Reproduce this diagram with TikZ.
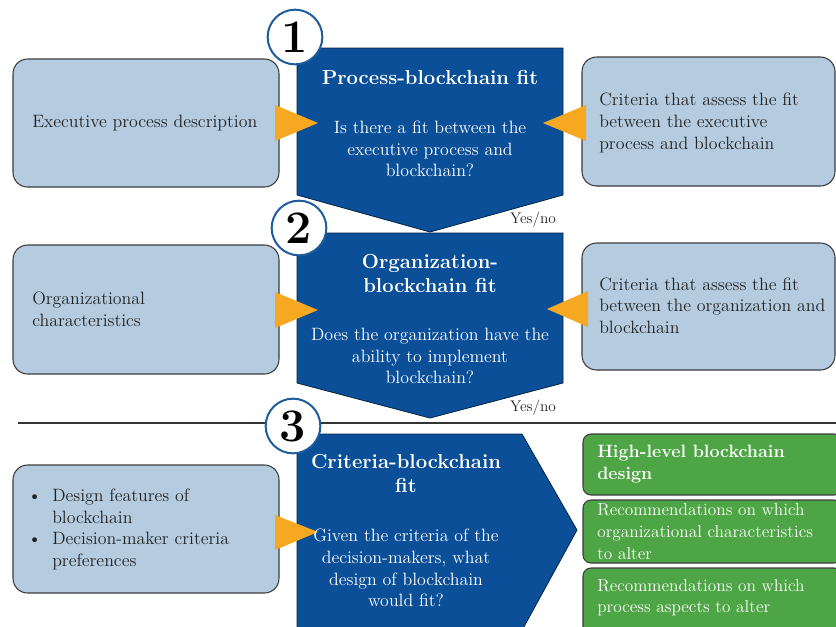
\documentclass[tikz,border=0pt]{standalone}
\usetikzlibrary{fit}
\definecolor{chev}{HTML}{0B4F98}
\definecolor{lblue}{HTML}{B4CBE0}
\definecolor{orng}{HTML}{F6A820}
\definecolor{grn}{HTML}{4EA545}
\definecolor{circ}{HTML}{1F5C9C}
\definecolor{bord}{HTML}{3C3C3C}
\definecolor{ink}{HTML}{222222}
\begin{document}
\begin{tikzpicture}[x=0.75pt,y=-0.75pt,
  inbox/.style={draw=bord, line width=0.8pt, fill=lblue, rounded corners=11pt, inner sep=0pt},
  outbox/.style={draw=bord, line width=0.8pt, fill=grn, rounded corners=6pt, inner sep=0pt},
  chevron/.style={fill=chev, draw=chev!45!black, line width=0.6pt},
  tri/.style={fill=orng},
  num/.style={circle, draw=circ, line width=1.5pt, fill=white, minimum size=41pt, inner sep=0pt, font=\fontsize{35}{35}\selectfont\bfseries},
  ttl/.style={text=white, font=\fontsize{15.2}{18}\selectfont\bfseries, align=center, inner sep=0pt},
  body/.style={text=white, font=\fontsize{13.4}{16.2}\selectfont, align=center, inner sep=0pt},
  txt/.style={text=ink, font=\fontsize{13.4}{16.2}\selectfont, align=left, inner sep=0pt, anchor=west},
  gtxt/.style={text=white, font=\fontsize{13}{16.2}\selectfont, align=left, inner sep=0pt, anchor=west},
  yn/.style={text=ink, font=\fontsize{11.5}{13}\selectfont, inner sep=0pt}
]
\useasboundingbox (0,0) rectangle (836,626);

% input boxes
\node[inbox, fit={(13,59) (279,187)}] (in1) {};
\node[inbox, fit={(13,245) (279,374)}] (in2) {};
\node[inbox, fit={(13,465) (279,593)}] (in3) {};
\node[inbox, fit={(582,57) (835,186)}] (cr1) {};
\node[inbox, fit={(582,243) (835,370)}] (cr2) {};

% output boxes
\node[outbox, fit={(583,434) (842,495)}] (out1) {};
\node[outbox, fit={(583,500) (842,563)}] (out2) {};
\node[outbox, fit={(583,568) (842,640)}] (out3) {};

% separator
\coordinate (sepL) at (18,423);
\coordinate (sepR) at (836,423);
\draw[line width=0.8pt, black!80] (sepL) -- (sepR);

% chevrons
\path[chevron] (297,48) -- (563,48) -- (563,195) -- (430,232) -- (297,195) -- cycle;
\path[chevron] (297,233) -- (563,233) -- (563,383) -- (430,418) -- (297,383) -- cycle;
\path[chevron] (297,434) -- (522,434) -- (577,530) -- (520,634) -- (297,634) -- cycle;

% orange arrows
\path[tri] (275,105) -- (318,123) -- (275,141) -- cycle;
\path[tri] (586,105) -- (543,123) -- (586,141) -- cycle;
\path[tri] (275,292) -- (318,310) -- (275,328) -- cycle;
\path[tri] (588,291) -- (547,309) -- (588,327) -- cycle;
\path[tri] (275,515) -- (318,532) -- (275,550) -- cycle;

% numbers
\node[num] (n1) at (295,37) {1};
\node[num] (n2) at (299,228) {2};
\node[num] (n3) at (293,426) {3};

% chevron texts
\node[ttl] (t1) at (430,77) {Process-blockchain fit};
\node[body] (b1) at (430,149) {Is there a fit between the\\executive process and\\blockchain?};
\node[ttl] (t2) at (430,273.5) {Organization-\\blockchain fit};
\node[body] (b2) at (430,356) {Does the organization have the\\ability to implement\\blockchain?};
\node[ttl] (t3) at (406,473.5) {Criteria-blockchain\\fit};
\node[body] (b3) at (406,568) {Given the criteria of the\\decision-makers, what\\design of blockchain\\would fit?};

\node[yn] (yn1) at (533,220) {Yes/no};
\node[yn] (yn2) at (533,408) {Yes/no};

% input texts
\node[txt] (it1) at (32,123) {Executive process description};
\node[txt] (it2) at (32,309.5) {Organizational\\characteristics};
\node[txt] (it3) at (52,529.5) {\llap{\textbullet\hspace{8pt}}Design features of\\blockchain\\\llap{\textbullet\hspace{8pt}}Decision-maker criteria\\preferences};
\node[txt] (ct1) at (599,123) {Criteria that assess the fit\\between the executive\\process and blockchain};
\node[txt] (ct2) at (599,305.5) {Criteria that assess the fit\\between the organization and\\blockchain};

% output texts
\node[gtxt, font=\fontsize{13.4}{16.5}\selectfont\bfseries] (ot1) at (597,464.5) {High-level blockchain\\design};
\node[gtxt] (ot2) at (597,531.5) {Recommendations on which\\organizational characteristics\\to alter};
\node[gtxt] (ot3) at (597,597.5) {Recommendations on which\\process aspects to alter};
\end{tikzpicture}
\end{document}
